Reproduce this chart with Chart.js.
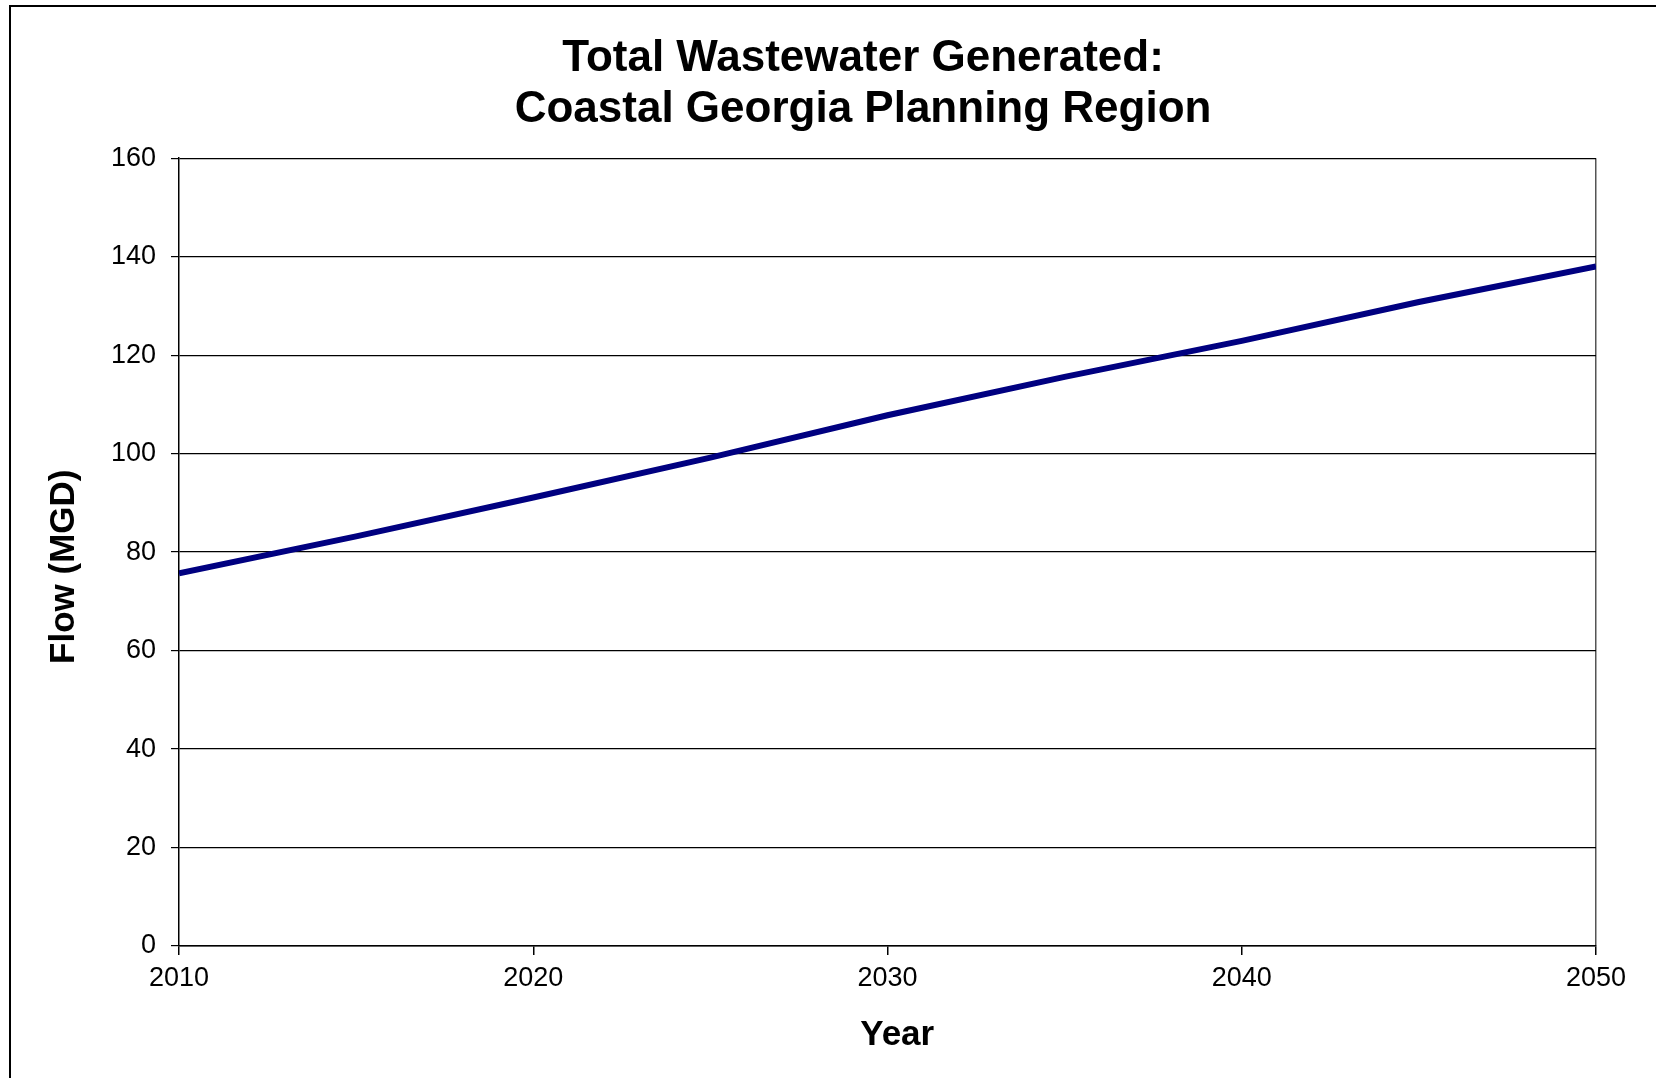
<!DOCTYPE html>
<html>
<head>
<meta charset="utf-8">
<title>Total Wastewater Generated</title>
<script src="https://cdn.jsdelivr.net/npm/chart.js@4/dist/chart.umd.min.js"></script>
<style>
    html, body { margin: 0; padding: 0; background: #fff; overflow: hidden; }
    #frame {
        position: absolute; left: 9px; top: 5px; width: 1645px; height: 1080px;
        border-left: 2px solid #000; border-top: 2px solid #000; border-right: 1px solid #ddd;
    }
    #flowChart { position: absolute; left: 0; top: 0; }
</style>
</head>
<body>
<div id="frame"></div>
<canvas id="flowChart" width="1656" height="1078"></canvas>
<script>
// ======================================
// DATA
// ======================================
const years = [2010, 2015, 2020, 2025, 2030, 2035, 2040, 2045, 2050];
const flowMGD = [75.7, 83.2, 91.1, 99.2, 107.8, 115.6, 122.9, 130.8, 138.0];
const yTicks = [0, 20, 40, 60, 80, 100, 120, 140, 160];
const xTicks = [2010, 2020, 2030, 2040, 2050];

const titleLines = ["Total Wastewater Generated:", "Coastal Georgia Planning Region"];
const xTitle = "Year";
const yTitle = "Flow (MGD)";

// Excel centres its titles a little off the plot centre; pad with spaces to nudge them
const nudge = (text, before, after) => " ".repeat(before) + text + " ".repeat(after);

// ======================================
// CHART INIT
// ======================================
Chart.defaults.font.family = "Arial, 'Liberation Sans', sans-serif";
Chart.defaults.color = "#000";

let ctx = document.getElementById("flowChart");
let chart = new Chart(ctx, {
    type: "line",
    data: {
        datasets: [
            {
                label: yTitle,
                data: years.map((y, i) => ({ x: y, y: flowMGD[i] })),
                borderColor: "#000080",
                borderWidth: 6,
                tension: 0,
                pointRadius: 0,
                fill: false
            }
        ]
    },
    options: {
        responsive: false,
        animation: false,
        layout: { padding: { left: 0, right: 60, top: 5, bottom: 10 } },
        plugins: {
            legend: { display: false },
            tooltip: { enabled: false },
            title: {
                display: true,
                text: titleLines.map(t => nudge(t, 0, 4)),
                fullSize: false,
                font: { size: 44, weight: "bold", lineHeight: 1.15 },
                color: "#000",
                padding: { top: 29, bottom: 23 }
            }
        },
        scales: {
            x: {
                type: "linear",
                min: 2010,
                max: 2050,
                afterBuildTicks: (scale) => { scale.ticks = xTicks.map(v => ({ value: v })); },
                afterFit: (scale) => { scale.height = 122; },
                ticks: {
                    font: { size: 27 },
                    padding: 7,
                    maxRotation: 0,
                    callback: (v) => String(v)
                },
                grid: {
                    drawOnChartArea: true,
                    color: (c) => c.index === xTicks.length - 1 ? "#555" : "rgba(0,0,0,0)",
                    tickColor: "#000",
                    tickLength: 9,
                    lineWidth: 1.5
                },
                border: { display: true, color: "#000", width: 1.5 },
                title: {
                    display: true,
                    text: nudge(xTitle, 2, 0),
                    font: { size: 35, weight: "bold" },
                    padding: { top: 0, bottom: 12 }
                }
            },
            y: {
                min: 0,
                max: 160,
                afterBuildTicks: (scale) => { scale.ticks = yTicks.map(v => ({ value: v })); },
                afterFit: (scale) => { scale.width = 179; },
                ticks: {
                    font: { size: 27 },
                    padding: 15
                },
                grid: {
                    color: "#000",
                    tickColor: "#000",
                    tickLength: 8,
                    lineWidth: 1.2
                },
                border: { display: true, color: "#000", width: 1.5 },
                title: {
                    display: true,
                    text: nudge(yTitle, 0, 3),
                    font: { size: 35, weight: "bold" },
                    padding: { top: 43, bottom: 0 }
                }
            }
        }
    }
});
</script>
</body>
</html>
